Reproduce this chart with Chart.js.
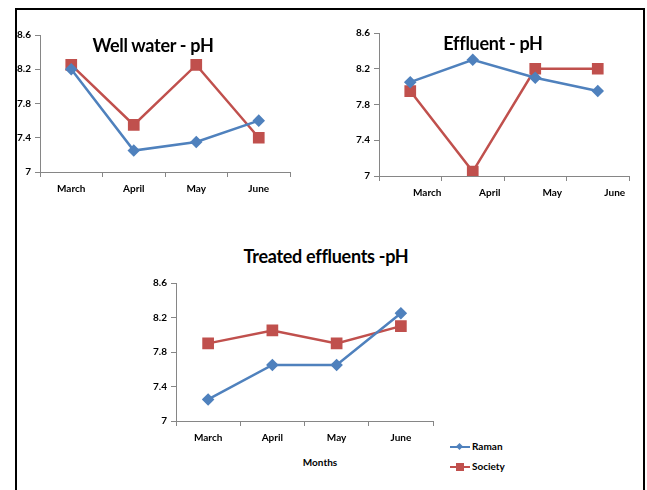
<!DOCTYPE html>
<html>
<head>
<meta charset="utf-8">
<script src="https://cdn.jsdelivr.net/npm/chart.js@4.4.1/dist/chart.umd.min.js"></script>
<style>
  body { margin: 0; width: 647px; height: 490px; background: #fff; position: relative; overflow: hidden;
         font-family: "Lato", sans-serif; }
  #frame { position: absolute; left: 15px; top: 8px; width: 630px; height: 500px; border: 2px solid #000; box-sizing: border-box; }
  canvas { position: absolute; }
  .title { position: absolute; font-weight: bold; font-size: 18px; transform: translate(-50%, -50%); white-space: nowrap; color: #000; letter-spacing: -0.3px; }
  .small { position: absolute; font-weight: bold; font-size: 10px; white-space: nowrap; color: #000; }
  .leg { position: absolute; height: 12px; }
  .leg .ln { position: absolute; left: 0; top: 5px; width: 20px; height: 2px; }
  .leg .mk { position: absolute; }
  .leg span { position: absolute; left: 22px; top: -1px; font-weight: bold; font-size: 10px; }
</style>
</head>
<body>
<div id="frame"></div>

<canvas id="well" width="290" height="175" style="left:10px;top:25px"></canvas>
<canvas id="effluent" width="290" height="181" style="left:349px;top:23px"></canvas>
<canvas id="treated" width="297" height="176" style="left:146px;top:273px"></canvas>

<div class="title" style="left:153px;top:45px">Well water - pH</div>
<div class="title" style="left:493px;top:43px">Effluent - pH</div>
<div class="title" style="left:326px;top:256px">Treated effluents -pH</div>
<div class="small" style="left:320px;top:462px;transform:translate(-50%,-50%)">Months</div>

<div class="leg" style="left:450px;top:441px">
  <div class="ln" style="background:#4f81bd"></div>
  <div class="mk" style="left:7px;top:3px;width:5px;height:5px;background:#4f81bd;transform:rotate(45deg)"></div>
  <span>Raman</span>
</div>
<div class="leg" style="left:450px;top:461px">
  <div class="ln" style="background:#c0504d"></div>
  <div class="mk" style="left:6px;top:2px;width:8px;height:8px;background:#c0504d"></div>
  <span>Society</span>
</div>

<script>
const months = ['March', 'April', 'May', 'June'];
const yTicks = [7, 7.4, 7.8, 8.2, 8.6];

const wellRaman = [8.2, 7.25, 7.35, 7.6];
const wellSociety = [8.25, 7.55, 8.25, 7.4];

const effluentRaman = [8.05, 8.3, 8.1, 7.95];
const effluentSociety = [7.95, 7.05, 8.2, 8.2];

const treatedRaman = [7.25, 7.65, 7.65, 8.25];
const treatedSociety = [7.9, 8.05, 7.9, 8.1];

const fontFamily = '"Lato", sans-serif';
const axisGray = '#868686';

function makeChart(id, raman, society, labelOffset) {
  const ctx = document.getElementById(id).getContext('2d');
  return new Chart(ctx, {
    type: 'line',
    data: {
      labels: months,
      datasets: [
        {
          label: 'Raman',
          data: raman,
          borderColor: '#4f81bd',
          backgroundColor: '#4f81bd',
          borderWidth: 2.5,
          pointStyle: 'rectRot',
          pointRadius: 4.5,
          tension: 0
        },
        {
          label: 'Society',
          data: society,
          borderColor: '#c0504d',
          backgroundColor: '#c0504d',
          borderWidth: 2.5,
          pointStyle: 'rect',
          pointRadius: 6.5,
          tension: 0
        }
      ]
    },
    options: {
      responsive: false,
      animation: false,
      layout: { padding: { top: 10, right: 10, bottom: 3, left: 0 } },
      plugins: { legend: { display: false }, tooltip: { enabled: false } },
      scales: {
        x: {
          offset: true,
          grid: { offset: true, drawOnChartArea: false, tickLength: 5, color: axisGray },
          border: { color: axisGray },
          ticks: {
            color: '#000',
            font: { family: fontFamily, size: 10, weight: 'bold' },
            padding: 6,
            labelOffset: labelOffset,
            maxRotation: 0,
            autoSkip: false
          },
          afterFit: s => { s.height = 25; }
        },
        y: {
          min: 7,
          max: 8.6,
          afterBuildTicks: s => { s.ticks = yTicks.map(v => ({ value: v })); },
          grid: { drawOnChartArea: false, tickLength: 5, color: axisGray },
          border: { color: axisGray },
          ticks: {
            color: '#000',
            font: { family: fontFamily, size: 10, weight: 'bold' },
            padding: 4,
            callback: v => String(+v.toFixed(1))
          },
          afterFit: s => { s.width = 30; }
        }
      }
    }
  });
}

makeChart('well', wellRaman, wellSociety, 0);
makeChart('effluent', effluentRaman, effluentSociety, 17);
makeChart('treated', treatedRaman, treatedSociety, 0);
</script>
</body>
</html>
